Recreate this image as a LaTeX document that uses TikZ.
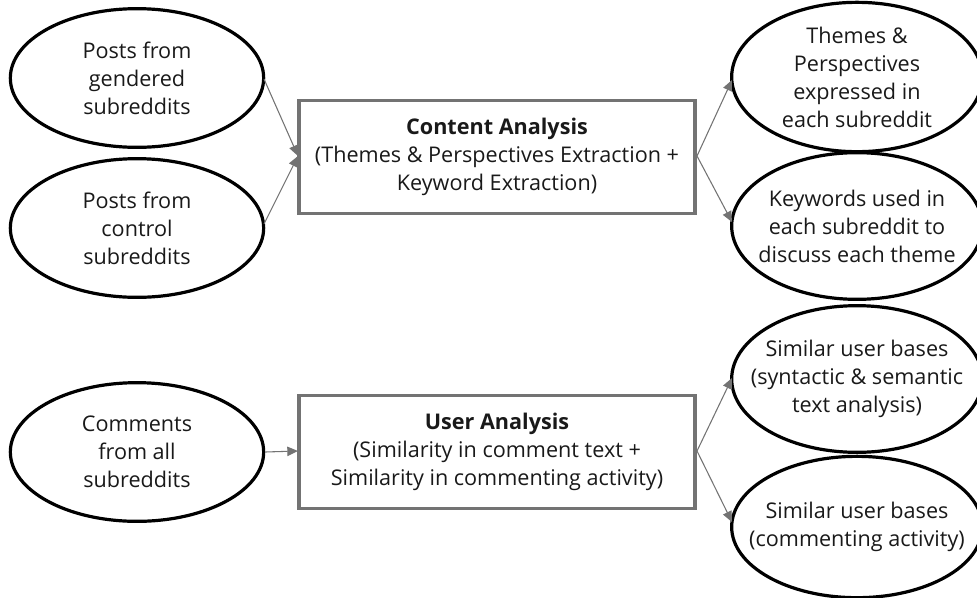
\documentclass[tikz,border=0pt]{standalone}
\usepackage{fontspec}
\setmainfont{Open Sans}
\usetikzlibrary{shapes.geometric,arrows.meta}
\begin{document}
\begin{tikzpicture}[x=0.75pt,y=-0.75pt,
  oval/.style={ellipse,draw=black,line width=2.4pt,minimum width=190pt,minimum height=104pt,inner sep=-20pt,align=center,font=\fontsize{16.2}{21}\selectfont,text=black!90},
  procbox/.style={rectangle,draw=black!55,line width=2.4pt,minimum width=297pt,minimum height=85pt,inner sep=0pt,align=center,font=\fontsize{16.2}{21}\selectfont,text=black!90},
  conn/.style={draw=black!55,line width=0.8pt,-{Triangle[length=8pt,width=7pt]}}]
\useasboundingbox (0,0) rectangle (977,597);
\clip (0,0) rectangle (977,597);
\node[oval] (g) at (137,78) {Posts from\\gendered\\subreddits};
\node[oval] (c) at (137,228) {Posts from\\control\\subreddits};
\node[oval] (a) at (137,452) {Comments\\from all\\subreddits};
\node[procbox] (ca) at (497,157) {\textbf{Content Analysis}\\(Themes \& Perspectives Extraction +\\Keyword Extraction)};
\node[procbox] (ua) at (497,452) {\textbf{User Analysis}\\(Similarity in comment text +\\Similarity in commenting activity)};
\node[oval,minimum width=188pt,minimum height=112pt] (t) at (857,77) {Themes \&\\Perspectives\\expressed in\\each subreddit};
\node[oval,minimum width=188pt,minimum height=110pt] (k) at (857,226) {Keywords used in\\each subreddit to\\discuss each theme};
\node[oval,minimum width=188pt,minimum height=110pt] (s1) at (857,379) {Similar user bases\\(syntactic \& semantic\\text analysis)};
\node[oval,minimum width=188pt,minimum height=106pt] (s2) at (857,527) {Similar user bases\\(commenting activity)};
\coordinate (cal) at (298,156);
\coordinate (car) at (697,156);
\coordinate (ual) at (298,451);
\coordinate (uar) at (697,451);
\draw[conn] (264,79) -- (cal);
\draw[conn] (264,224) -- (cal);
\draw[conn] (a.east) -- (ual);
\draw[conn] (car) -- (732,80);
\draw[conn] (car) -- (732,222);
\draw[conn] (uar) -- (732,378);
\draw[conn] (uar) -- (732,522);
\end{tikzpicture}
\end{document}
